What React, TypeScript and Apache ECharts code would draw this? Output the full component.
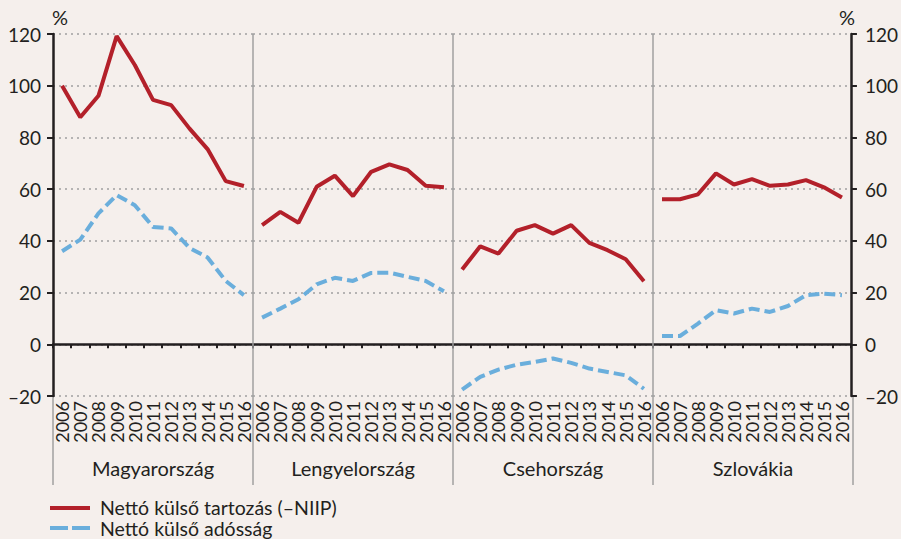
import React, { useEffect, useRef } from "react";
import * as echarts from "echarts";

const years = ["2006", "2007", "2008", "2009", "2010", "2011", "2012", "2013", "2014", "2015", "2016"];
const countries = ["Magyarország", "Lengyelország", "Csehország", "Szlovákia"];

// Nettó külső tartozás (–NIIP)
const huNIIP = [100, 87.8, 96.1, 119.2, 108, 94.5, 92.5, 83.5, 75.5, 63.1, 61.2];
const plNIIP = [46.1, 51.2, 47, 60.9, 65.2, 57.3, 66.7, 69.6, 67.4, 61.3, 60.7];
const czNIIP = [28.9, 37.9, 35.1, 43.9, 46.1, 42.8, 46.1, 39.2, 36.4, 32.9, 24.4];
const skNIIP = [56.1, 56.1, 58, 66.1, 61.8, 63.9, 61.3, 61.8, 63.5, 60.7, 56.8];

// Nettó külső adósság
const huDebt = [36, 40.5, 50.6, 57.7, 53.8, 45.4, 44.8, 37.3, 33.6, 24.5, 19];
const plDebt = [10.3, 13.8, 17.4, 23.2, 25.7, 24.5, 27.6, 27.7, 26.1, 24.5, 20.5];
const czDebt = [-17.5, -12.6, -9.8, -7.9, -6.8, -5.5, -7.2, -9.4, -10.7, -12, -17.2];
const skDebt = [3.2, 3.2, 8, 13.2, 11.9, 13.8, 12.5, 14.8, 19, 19.6, 19];

const yTicks = { min: -20, max: 120, interval: 20 };
const legendNames = ["Nettó külső tartozás (–NIIP)", "Nettó külső adósság"];

const niipSeries = [huNIIP, plNIIP, czNIIP, skNIIP];
const debtSeries = [huDebt, plDebt, czDebt, skDebt];

const RED = "#B3202A";
const BLUE = "#6AAEDC";
const TXT = "#231F20";
const BG = "#F5EFEC";
const FONT = "Lato, 'Open Sans', sans-serif";

export default function App() {
  const ref = useRef<HTMLDivElement>(null);

  useEffect(() => {
    if (!ref.current) return;
    const chart = echarts.init(ref.current, null, { renderer: "svg" });

    const L = 53;
    const W = 200;
    const TOP = 34;
    const H = 362;

    const grids: any[] = [];
    const xAxes: any[] = [];
    const yAxes: any[] = [];
    const series: any[] = [];

    for (let p = 0; p < 4; p++) {
      grids.push({ left: L + p * W, top: TOP, width: W, height: H, containLabel: false });
    }
    // axes at zero: line + ticks
    for (let p = 0; p < 4; p++) {
      xAxes.push({
        type: "category",
        gridIndex: p,
        data: years,
        boundaryGap: true,
        position: "bottom",
        axisLine: { show: true, onZero: true, lineStyle: { color: TXT, width: 2.5 } },
        axisTick: { show: true, interval: 0, length: 4, lineStyle: { color: TXT, width: 2 } },
        axisLabel: { show: false },
        splitLine: { show: false },
      });
    }
    // label axes at bottom
    for (let p = 0; p < 4; p++) {
      xAxes.push({
        type: "category",
        gridIndex: p,
        data: years,
        boundaryGap: true,
        position: "bottom",
        axisLine: { show: false, onZero: false },
        axisTick: { show: false },
        axisLabel: {
          show: true,
          interval: 0,
          rotate: 90,
          margin: 5,
          fontSize: 18,
          fontFamily: FONT,
          color: TXT,
        },
        splitLine: { show: false },
      });
    }
    for (let p = 0; p < 4; p++) {
      const outer = p === 0 || p === 3;
      yAxes.push({
        type: "value",
        gridIndex: p,
        min: yTicks.min,
        max: yTicks.max,
        interval: yTicks.interval,
        position: p === 3 ? "right" : "left",
        axisLine: { show: outer, lineStyle: { color: TXT, width: 2.5 } },
        axisTick: { show: outer, length: 6, lineStyle: { color: TXT, width: 2 } },
        axisLabel: {
          show: outer,
          margin: p === 3 ? 14 : 12,
          fontSize: 19,
          fontFamily: FONT,
          color: TXT,
          formatter: (v: number) => (v < 0 ? "\u2013" + Math.abs(v) : String(v)),
        },
        splitLine: { show: true, lineStyle: { color: "#A0A0A0", width: 1.5, type: [2, 4] } },
      });
    }
    for (let p = 0; p < 4; p++) {
      series.push({
        type: "line",
        name: legendNames[0],
        xAxisIndex: p,
        yAxisIndex: p,
        data: niipSeries[p],
        symbol: "none",
        lineStyle: { color: RED, width: 4 },
        z: 5,
      });
      series.push({
        type: "line",
        name: legendNames[1],
        xAxisIndex: p,
        yAxisIndex: p,
        data: debtSeries[p],
        symbol: "none",
        lineStyle: { color: BLUE, width: 4, type: [11, 5] },
        z: 4,
      });
    }

    const graphics: any[] = [];
    // vertical separators
    for (let p = 1; p < 4; p++) {
      graphics.push({
        type: "line",
        shape: { x1: L + p * W, y1: TOP, x2: L + p * W, y2: 485 },
        style: { stroke: "#A0A0A0", lineWidth: 1.5 },
        z: 1,
      });
    }
    graphics.push({
      type: "line",
      shape: { x1: L, y1: TOP + H, x2: L, y2: 485 },
      style: { stroke: "#A0A0A0", lineWidth: 1.5 },
    });
    graphics.push({
      type: "line",
      shape: { x1: L + 4 * W, y1: TOP + H, x2: L + 4 * W, y2: 485 },
      style: { stroke: "#A0A0A0", lineWidth: 1.5 },
    });
    // country names
    for (let p = 0; p < 4; p++) {
      graphics.push({
        type: "text",
        x: L + p * W + W / 2,
        y: 468,
        style: {
          text: countries[p],
          fontSize: 20,
          fontFamily: FONT,
          fill: TXT,
          align: "center",
          verticalAlign: "middle",
        },
      });
    }
    // % labels
    graphics.push({
      type: "text",
      x: 60,
      y: 17,
      style: { text: "%", fontSize: 20, fontFamily: FONT, fill: TXT, align: "center", verticalAlign: "middle" },
    });
    graphics.push({
      type: "text",
      x: 847,
      y: 17,
      style: { text: "%", fontSize: 20, fontFamily: FONT, fill: TXT, align: "center", verticalAlign: "middle" },
    });
    // legend
    graphics.push({
      type: "line",
      shape: { x1: 50, y1: 508, x2: 90, y2: 508 },
      style: { stroke: RED, lineWidth: 4 },
    });
    graphics.push({
      type: "line",
      shape: { x1: 50, y1: 528, x2: 68, y2: 528 },
      style: { stroke: BLUE, lineWidth: 4 },
    });
    graphics.push({
      type: "line",
      shape: { x1: 72, y1: 528, x2: 90, y2: 528 },
      style: { stroke: BLUE, lineWidth: 4 },
    });
    graphics.push({
      type: "text",
      x: 100,
      y: 507,
      style: {
        text: legendNames[0],
        fontSize: 19.5,
        lineHeight: 19,
        fontFamily: FONT,
        fill: TXT,
        align: "left",
        verticalAlign: "middle",
      },
    });
    graphics.push({
      type: "text",
      x: 100,
      y: 528,
      style: {
        text: legendNames[1],
        fontSize: 19.5,
        lineHeight: 19,
        fontFamily: FONT,
        fill: TXT,
        align: "left",
        verticalAlign: "middle",
      },
    });

    chart.setOption({
      animation: false,
      backgroundColor: BG,
      grid: grids,
      xAxis: xAxes,
      yAxis: yAxes,
      series,
      graphic: graphics,
    });

    return () => chart.dispose();
  }, []);

  return (
    <div
      ref={ref}
      style={{ position: "fixed", left: 0, top: 0, width: 901, height: 539, background: BG }}
    />
  );
}
